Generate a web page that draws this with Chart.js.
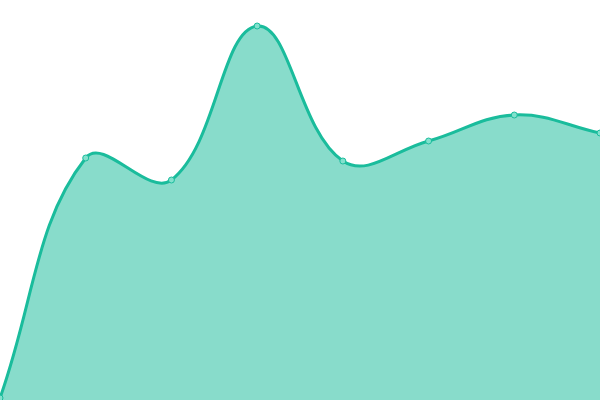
<!DOCTYPE html>
<html>
<head>
<meta charset="utf-8">
<script src="https://cdn.jsdelivr.net/npm/chart.js@4"></script>
<style>
  html, body { margin: 0; padding: 0; background: #fff; }
  #wrap { width: 600px; height: 400px; }
</style>
</head>
<body>
<div id="wrap"><canvas id="chart"></canvas></div>
<script>
const labels = ['1', '2', '3', '4', '5', '6', '7', '8'];
const values = [2, 242, 220, 374, 239, 259, 285, 267];

const lineColor = '#1abc9c';

new Chart(document.getElementById('chart'), {
  type: 'line',
  data: {
    labels,
    datasets: [{
      data: values,
      fill: true,
      tension: 0.4,
      borderColor: lineColor,
      borderWidth: 3,
      backgroundColor: 'rgba(26, 188, 156, 0.52)',
      pointRadius: 3,
      pointBorderWidth: 1,
      pointBackgroundColor: 'rgba(130, 225, 205, 1)',
      pointBorderColor: lineColor,
    }],
  },
  options: {
    responsive: true,
    maintainAspectRatio: false,
    animation: false,
    layout: { padding: 0, autoPadding: false },
    plugins: { legend: false, tooltip: false },
    scales: {
      x: { display: false, offset: false },
      y: { display: false, min: 0, max: 400 },
    },
  },
});
</script>
</body>
</html>
